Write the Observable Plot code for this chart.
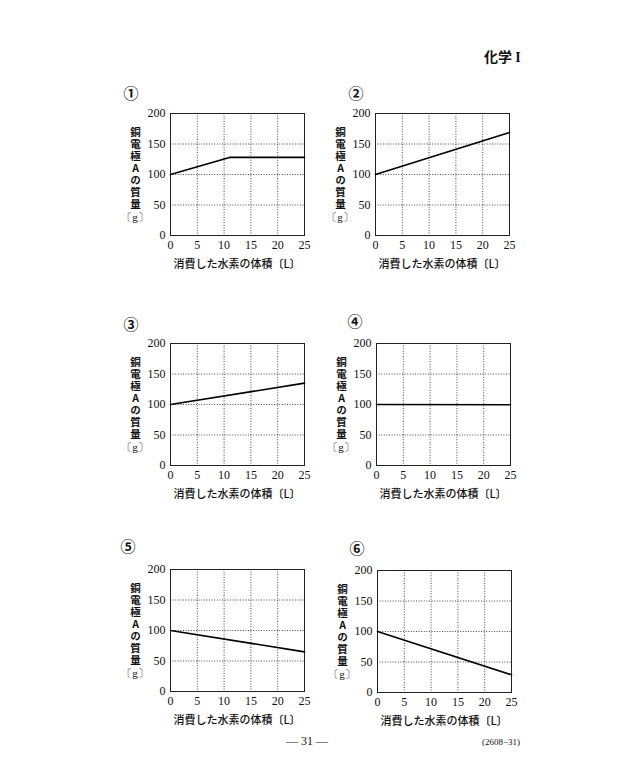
<!DOCTYPE html>
<html>
<head>
<meta charset="utf-8">
<script src="https://cdn.jsdelivr.net/npm/d3@7"></script>
<script src="https://cdn.jsdelivr.net/npm/@observablehq/plot@0.6"></script>
<style>
  html, body { margin:0; padding:0; background:#fff; }
  #page { position:relative; width:620px; height:784px; overflow:hidden; background:#fff; font-family:"Noto Sans CJK JP", sans-serif; color:#111; }
  .abs { position:absolute; }
  .num { font-size:15px; line-height:15px; transform:translate(-50%,-50%); font-weight:bold; }
  .ylab { writing-mode:vertical-rl; text-orientation:upright; font-size:10.5px; line-height:12px; letter-spacing:1.5px; font-weight:bold; transform:translateX(-50%); white-space:nowrap; }
  .gunit { font-size:11px; line-height:12px; transform:translateX(-50%); font-family:'Liberation Serif', serif; white-space:nowrap; }
  .xlab { font-size:11px; transform:translate(-50%,-50%); white-space:nowrap; font-weight:500; }
</style>
</head>
<body>
<div id="page"></div>
<script>
// ---- data ----
const panelLabels = ["①", "②", "③", "④", "⑤", "⑥"];
const xTicks = [0, 5, 10, 15, 20, 25];
const yTicks = [0, 50, 100, 150, 200];
const xGrid = [5, 10, 15, 20];
const yGrid = [50, 100, 150];
const yLabelText = "銅電極Aの質量";
const yUnitText = "〔g〕";
const xLabelText = "消費した水素の体積〔L〕";
const headerText = "化学 <span style=\"font-family:'Liberation Serif',serif\">I</span>";
const pageNumber = "— 31 —";
const pageCode = "(2608−31)";

const volume1 = [0, 11, 25];
const mass1 = [100, 128, 128];
const volume2 = [0, 25];
const mass2 = [100, 169];
const volume3 = [0, 25];
const mass3 = [100, 135];
const volume4 = [0, 25];
const mass4 = [100, 99.5];
const volume5 = [0, 25];
const mass5 = [100, 65];
const volume6 = [0, 25];
const mass6 = [100, 29];

const series = [
  [volume1, mass1], [volume2, mass2], [volume3, mass3],
  [volume4, mass4], [volume5, mass5], [volume6, mass6]
];

// ---- layout (frame left, frame top, circle-number offsets) ----
const frames = [
  {fx:170, fy:113, nx:-39, ny:-21},
  {fx:375, fy:113, nx:-19, ny:-21},
  {fx:170, fy:343, nx:-39, ny:-20},
  {fx:376, fy:343, nx:-21, ny:-23},
  {fx:170, fy:569, nx:-42, ny:-24},
  {fx:377, fy:570, nx:-20, ny:-23}
];
const FW = 134, FH = 122;
const ML = 32, MR = 12, MT = 10, MB = 26;

const page = document.getElementById("page");

function addDiv(cls, x, y, html, style) {
  const d = document.createElement("div");
  d.className = "abs " + cls;
  d.style.left = x + "px";
  d.style.top = y + "px";
  if (style) Object.assign(d.style, style);
  d.innerHTML = html;
  page.appendChild(d);
  return d;
}

// header & footer
addDiv("", 484, 46, headerText, {fontSize:"14px", fontWeight:"bold", fontFamily:"'Noto Sans CJK JP'"});
addDiv("", 286, 734, pageNumber, {fontSize:"12px", fontFamily:"'Liberation Serif', serif"});
addDiv("", 482, 737, pageCode, {fontSize:"9px", fontFamily:"'Liberation Serif', serif"});

series.forEach(([vol, mass], i) => {
  const f = frames[i];
  const data = vol.map((v, k) => ({v, m: mass[k]}));
  const chart = Plot.plot({
    width: ML + FW + MR,
    height: MT + FH + MB,
    marginLeft: ML, marginRight: MR, marginTop: MT, marginBottom: MB,
    style: {fontFamily: "'Liberation Serif', serif", fontSize: "12px", color: "#111", background: "transparent", overflow: "visible"},
    x: {domain: [0, 25], ticks: xTicks, tickSize: 0, tickPadding: 5, label: null},
    y: {domain: [0, 200], ticks: yTicks, tickSize: 0, tickPadding: 5, label: null},
    marks: [
      Plot.gridX(xGrid, {stroke: "#000", strokeOpacity: 0.9, strokeWidth: 0.8, strokeDasharray: "1,1.6"}),
      Plot.gridY(yGrid, {stroke: "#000", strokeOpacity: 0.9, strokeWidth: 0.8, strokeDasharray: "1,1.6"}),
      Plot.frame({stroke: "#222", strokeWidth: 1}),
      Plot.line(data, {x: "v", y: "m", stroke: "#000", strokeWidth: 1.6})
    ]
  });
  const holder = document.createElement("div");
  holder.className = "abs";
  holder.style.left = (f.fx - ML) + "px";
  holder.style.top = (f.fy - MT) + "px";
  holder.style.width = (ML + FW + MR) + "px";
  holder.appendChild(chart);
  page.appendChild(holder);

  addDiv("num", f.fx + f.nx, f.fy + f.ny, panelLabels[i]);
  addDiv("ylab", f.fx - 35, f.fy + 14, yLabelText);
  addDiv("gunit", f.fx - 35, f.fy + 98, yUnitText);
  addDiv("xlab", f.fx + FW / 2, f.fy + FH + 28, xLabelText);
});
</script>
</body>
</html>
